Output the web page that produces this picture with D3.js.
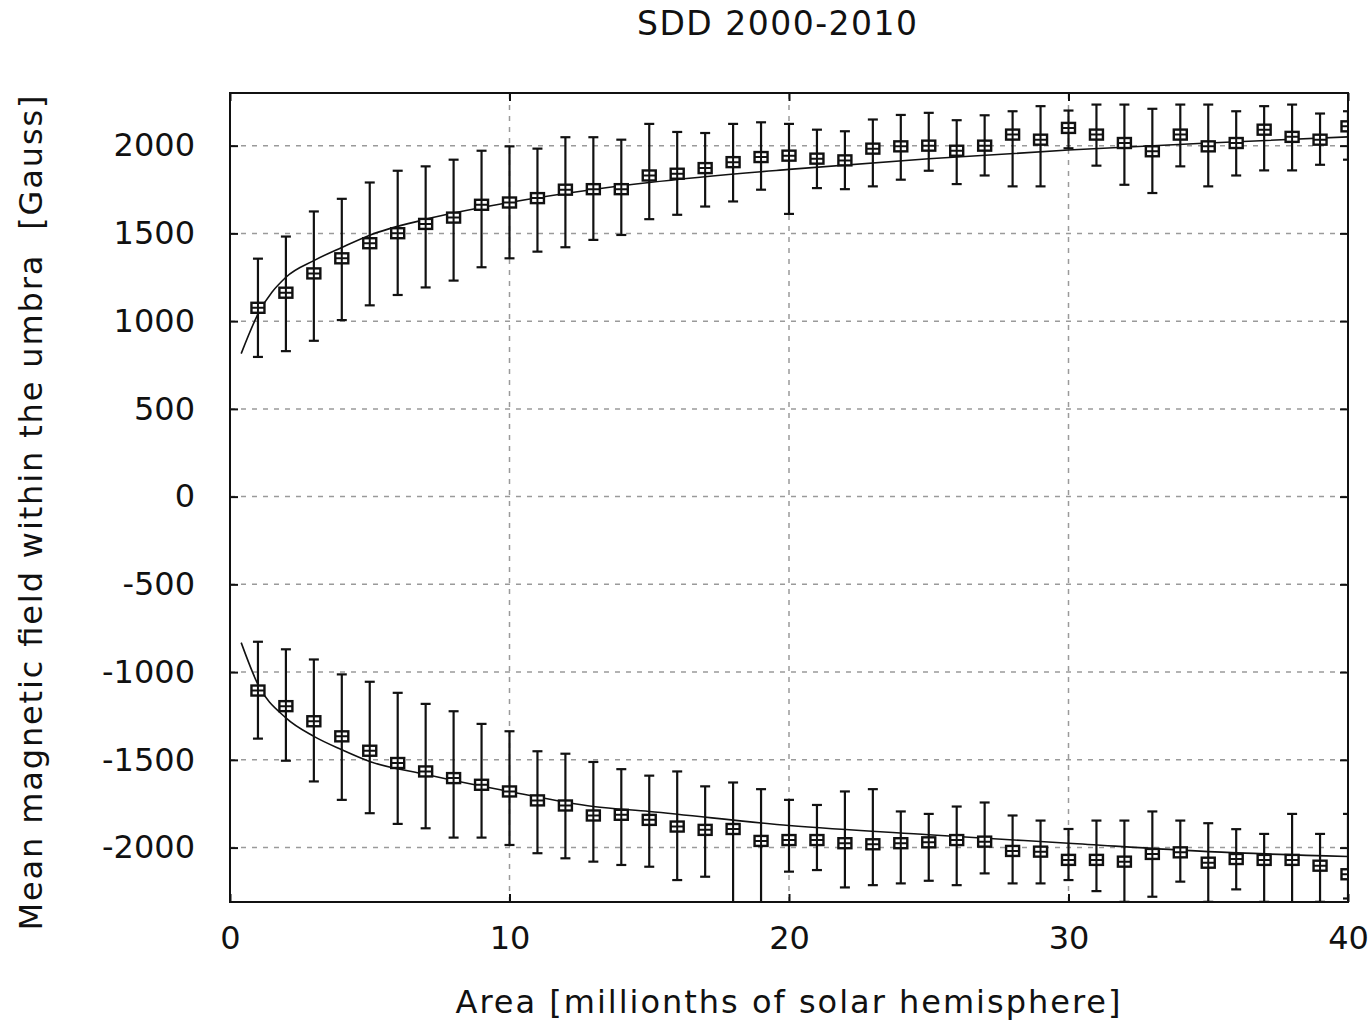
<!DOCTYPE html>
<html>
<head>
<meta charset="utf-8">
<script src="https://cdn.jsdelivr.net/npm/d3@7"></script>
<style>
  body { margin: 0; background: #fff; }
  text { font-family: "DejaVu Sans", sans-serif; fill: #111; }
</style>
</head>
<body>
<div id="chart"></div>
<script>
// area bins (millionths of solar hemisphere)
const areas = d3.range(1, 41);

// positive polarity: mean field, upper and lower error bar ends
const posMean = [1076, 1162, 1272, 1358, 1444, 1501, 1554, 1590, 1663, 1676,
  1701, 1749, 1752, 1752, 1830, 1840, 1872, 1906, 1935, 1943,
  1926, 1916, 1983, 1996, 2000, 1971, 2000, 2063, 2034, 2101,
  2063, 2015, 1968, 2063, 1996, 2015, 2091, 2050, 2034, 2110];
const posHigh = [1356, 1482, 1625, 1697, 1790, 1857, 1882, 1920, 1971, 1996,
  1983, 2048, 2048, 2034, 2124, 2078, 2072, 2124, 2133, 2124,
  2091, 2082, 2149, 2175, 2187, 2145, 2173, 2196, 2225, 2200,
  2234, 2234, 2210, 2234, 2234, 2196, 2225, 2234, 2183, 2196];
const posLow = [796, 829, 888, 1006, 1090, 1149, 1192, 1231, 1307, 1358,
  1396, 1421, 1463, 1491, 1581, 1606, 1653, 1682, 1749, 1611,
  1758, 1752, 1768, 1806, 1857, 1781, 1830, 1768, 1768, 1985,
  1886, 1777, 1730, 1882, 1768, 1830, 1859, 1859, 1891, 1920];

// negative polarity
const negMean = [-1105, -1194, -1280, -1366, -1448, -1518, -1566, -1604, -1642, -1680,
  -1731, -1760, -1817, -1813, -1842, -1880, -1899, -1894, -1962, -1957,
  -1957, -1975, -1981, -1975, -1970, -1957, -1966, -2019, -2023, -2070,
  -2070, -2080, -2036, -2027, -2086, -2065, -2070, -2070, -2103, -2152];
const negHigh = [-827, -870, -928, -1013, -1055, -1118, -1181, -1223, -1295, -1337,
  -1451, -1465, -1512, -1553, -1590, -1566, -1651, -1629, -1667, -1728,
  -1757, -1680, -1667, -1794, -1808, -1766, -1743, -1817, -1846, -1894,
  -1846, -1846, -1794, -1846, -1861, -1895, -1922, -1808, -1922, -1808];
const negLow = [-1379, -1505, -1623, -1728, -1804, -1865, -1890, -1943, -1943, -1985,
  -2032, -2061, -2080, -2099, -2109, -2185, -2166, -2400, -2400, -2137,
  -2128, -2227, -2214, -2204, -2189, -2214, -2147, -2204, -2204, -2185,
  -2248, -2309, -2280, -2194, -2309, -2238, -2309, -2400, -2309, -2290];

// fitted curves
const fitArea = [0.4, 1, 2, 3, 4, 5, 7, 10, 13, 15, 20, 25, 30, 35, 40];
const fitPos = [815, 1040, 1250, 1345, 1420, 1490, 1580, 1676, 1750, 1790, 1865, 1925, 1975, 2015, 2050];
const fitNeg = [-832, -1070, -1261, -1366, -1442, -1509, -1583, -1680, -1766, -1794, -1874, -1927, -1975, -2023, -2051];

const xTicks = [0, 10, 20, 30, 40];
const yTicks = [-2000, -1500, -1000, -500, 0, 500, 1000, 1500, 2000];

const width = 1371, height = 1022;
const margin = {left: 230, right: 23, top: 93, bottom: 120};

const svg = d3.select('#chart').append('svg')
  .attr('width', width)
  .attr('height', height);

const x = d3.scaleLinear().domain([0, 40]).range([margin.left, width - margin.right]);
const y = d3.scaleLinear().domain([-2310, 2300]).range([height - margin.bottom, margin.top]);

// clip path for the plot area
svg.append('clipPath').attr('id', 'plot-clip')
  .append('rect')
  .attr('x', x(0)).attr('y', y(2300))
  .attr('width', x(40) - x(0)).attr('height', y(-2310) - y(2300));

// grid
const grid = svg.append('g').attr('class', 'grid')
  .attr('stroke', '#9a9a9a').attr('stroke-width', 1.5).attr('stroke-dasharray', '5,6');
grid.selectAll('.gy').data(yTicks).enter().append('line')
  .attr('x1', x(0)).attr('x2', x(40))
  .attr('y1', d => y(d)).attr('y2', d => y(d));
grid.selectAll('.gx').data(xTicks.slice(1, -1)).enter().append('line')
  .attr('y1', y(-2310)).attr('y2', y(2300))
  .attr('x1', d => x(d)).attr('x2', d => x(d));

// axes (ticks inside, gnuplot style); plain hyphen for minus
const fmt = d => String(d);
svg.append('g')
  .attr('transform', `translate(0,${y(-2310)})`)
  .call(d3.axisBottom(x).tickValues(xTicks).tickSize(-8).tickPadding(24).tickFormat(fmt))
  .call(g => g.select('.domain').remove());
svg.append('g')
  .attr('transform', `translate(0,${y(2300)})`)
  .call(d3.axisTop(x).tickValues(xTicks).tickSize(-8).tickFormat(''))
  .call(g => g.select('.domain').remove());
svg.append('g')
  .attr('transform', `translate(${x(0)},0)`)
  .call(d3.axisLeft(y).tickValues(yTicks).tickSize(-8).tickPadding(35).tickFormat(fmt))
  .call(g => g.select('.domain').remove());
svg.append('g')
  .attr('transform', `translate(${x(40)},0)`)
  .call(d3.axisRight(y).tickValues(yTicks).tickSize(-8).tickFormat(''))
  .call(g => g.select('.domain').remove());

svg.selectAll('.tick line').attr('stroke', '#111').attr('stroke-width', 2);
svg.selectAll('.tick text')
  .attr('font-size', 32)
  .attr('font-family', '"DejaVu Sans", sans-serif')
  .attr('fill', '#111');

// frame
svg.append('rect')
  .attr('x', x(0)).attr('y', y(2300))
  .attr('width', x(40) - x(0)).attr('height', y(-2310) - y(2300))
  .attr('fill', 'none').attr('stroke', '#111').attr('stroke-width', 2);

const plot = svg.append('g').attr('clip-path', 'url(#plot-clip)');

// fit lines
const line = d3.line().x(d => x(d[0])).y(d => y(d[1])).curve(d3.curveMonotoneX);
[fitPos, fitNeg].forEach(vals => {
  plot.append('path')
    .datum(fitArea.map((a, i) => [a, vals[i]]))
    .attr('d', line)
    .attr('fill', 'none')
    .attr('stroke', '#111')
    .attr('stroke-width', 1.6);
});

// error bars and points
function drawSeries(mean, high, low) {
  const data = areas.map((a, i) => ({a: a, m: mean[i], hi: high[i], lo: low[i]}));
  const g = plot.append('g').attr('stroke', '#111').attr('stroke-width', 2.2).attr('fill', 'none');
  g.selectAll('.bar').data(data).enter().append('line')
    .attr('x1', d => x(d.a)).attr('x2', d => x(d.a))
    .attr('y1', d => y(d.hi)).attr('y2', d => y(d.lo));
  g.selectAll('.capHi').data(data).enter().append('line')
    .attr('x1', d => x(d.a) - 5).attr('x2', d => x(d.a) + 5)
    .attr('y1', d => y(d.hi)).attr('y2', d => y(d.hi));
  g.selectAll('.capLo').data(data).enter().append('line')
    .attr('x1', d => x(d.a) - 5).attr('x2', d => x(d.a) + 5)
    .attr('y1', d => y(d.lo)).attr('y2', d => y(d.lo));
  g.selectAll('.box').data(data).enter().append('rect')
    .attr('x', d => x(d.a) - 6.5).attr('y', d => y(d.m) - 5)
    .attr('width', 13).attr('height', 10)
    .attr('fill', '#fff').attr('stroke-width', 2.4);
  g.selectAll('.plus').data(data).enter().append('path')
    .attr('d', d => `M${x(d.a) - 6.5},${y(d.m)}h13M${x(d.a)},${y(d.m) - 5}v10`)
    .attr('stroke-width', 2);
}
drawSeries(posMean, posHigh, posLow);
drawSeries(negMean, negHigh, negLow);

// titles
svg.append('text')
  .attr('x', 777).attr('y', 35)
  .attr('text-anchor', 'middle')
  .attr('font-size', 33)
  .attr('textLength', 280).attr('lengthAdjust', 'spacing')
  .text('SDD 2000-2010');

svg.append('text')
  .attr('x', 788).attr('y', 1013)
  .attr('text-anchor', 'middle')
  .attr('font-size', 32)
  .attr('textLength', 665).attr('lengthAdjust', 'spacing')
  .text('Area [millionths of solar hemisphere]');

svg.append('text')
  .attr('transform', 'translate(42,513) rotate(-90)')
  .attr('text-anchor', 'middle')
  .attr('font-size', 32)
  .attr('textLength', 835).attr('lengthAdjust', 'spacing')
  .style('white-space', 'pre')
  .text('Mean magnetic field within the umbra  [Gauss]');
</script>
</body>
</html>
